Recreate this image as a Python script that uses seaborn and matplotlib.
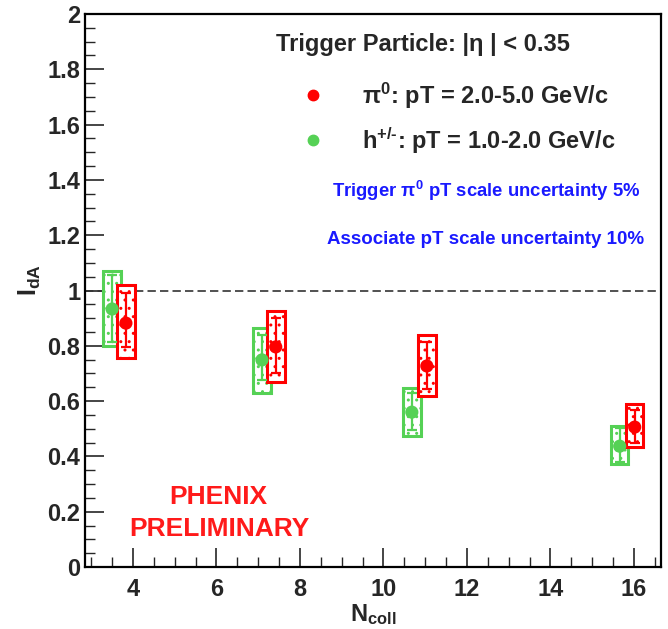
import numpy as np
import pandas as pd
import matplotlib
matplotlib.use("Agg")
import matplotlib.pyplot as plt
from matplotlib.patches import Rectangle
from matplotlib.ticker import MultipleLocator
import seaborn as sns

# ---- data ----
ncoll_pi0 = [3.83, 7.42, 11.04, 16.02]
ida_pi0 = [0.882, 0.796, 0.727, 0.506]
stat_up_pi0 = [0.108, 0.104, 0.087, 0.062]
stat_dn_pi0 = [0.086, 0.096, 0.083, 0.058]
sys_lo_pi0 = [0.756, 0.669, 0.618, 0.434]
sys_hi_pi0 = [1.020, 0.926, 0.839, 0.590]

ncoll_h = [3.50, 7.09, 10.68, 15.66]
ida_h = [0.933, 0.749, 0.560, 0.437]
stat_up_h = [0.123, 0.091, 0.070, 0.066]
stat_dn_h = [0.119, 0.073, 0.065, 0.057]
sys_lo_h = [0.800, 0.629, 0.474, 0.372]
sys_hi_h = [1.070, 0.864, 0.647, 0.510]

series_labels = ["π0", "h+/-"]
ytick_labels = ["0", "0.2", "0.4", "0.6", "0.8", "1", "1.2", "1.4", "1.6", "1.8", "2"]
RED = "#ff0000"
GREEN = "#55d155"

sns.set_style("ticks")
plt.rcParams["font.family"] = ["Liberation Sans", "DejaVu Sans"]
plt.rcParams["mathtext.fontset"] = "custom"
plt.rcParams["mathtext.rm"] = "Liberation Sans:bold"
plt.rcParams["mathtext.bf"] = "Liberation Sans:bold"
plt.rcParams["mathtext.it"] = "Liberation Sans:bold"
plt.rcParams["hatch.linewidth"] = 1.0

fig = plt.figure(figsize=(6.68, 6.29), dpi=100)
ax = fig.add_axes([85 / 668, 62 / 629, 576 / 668, 553 / 629])

df = pd.DataFrame({
    "ncoll": ncoll_pi0 + ncoll_h,
    "ida": ida_pi0 + ida_h,
    "series": [series_labels[0]] * 4 + [series_labels[1]] * 4,
})

box_hw = 0.21
for xs, ys, lo, hi, up, dn, col in [
    (ncoll_h, ida_h, sys_lo_h, sys_hi_h, stat_up_h, stat_dn_h, GREEN),
    (ncoll_pi0, ida_pi0, sys_lo_pi0, sys_hi_pi0, stat_up_pi0, stat_dn_pi0, RED),
]:
    for x, l, h in zip(xs, lo, hi):
        ax.add_patch(Rectangle((x - box_hw, l), 2 * box_hw, h - l,
                               facecolor="white", edgecolor=col, lw=2.2,
                               hatch="..", zorder=2))
    ax.errorbar(xs, ys, yerr=[dn, up], fmt="none", ecolor=col,
                elinewidth=1.6, capsize=3.5, capthick=1.6, zorder=3)

sns.scatterplot(data=df, x="ncoll", y="ida", hue="series",
                palette={series_labels[0]: RED, series_labels[1]: GREEN},
                s=90, edgecolor="none", legend=False, ax=ax, zorder=4)

ax.axhline(1.0, color="#333333", lw=1.2, ls=(0, (5, 2.5)), zorder=1)

ax.set_xlim(2.85, 16.65)
ax.set_ylim(0, 2)
ax.xaxis.set_major_locator(MultipleLocator(2))
ax.xaxis.set_minor_locator(MultipleLocator(0.5))
ax.yaxis.set_minor_locator(MultipleLocator(0.05))
ax.set_yticks(np.arange(0, 2.01, 0.2))
ax.set_yticklabels(ytick_labels)
ax.tick_params(which="major", direction="in", length=14, width=1.2,
               labelsize=17, pad=3.5, top=False, right=False)
ax.tick_params(which="minor", direction="in", length=7, width=1.0,
               top=False, right=False)
ax.tick_params(axis="x", which="major", pad=8)
for lab in ax.get_xticklabels() + ax.get_yticklabels():
    lab.set_fontweight("bold")
for sp in ax.spines.values():
    sp.set_linewidth(1.6)
    sp.set_color("black")

ax.set_xlabel(r"$\mathbf{N_{coll}}$", fontsize=17)
ax.set_ylabel(r"$\mathbf{I_{dA}}$", fontsize=18)
ax.xaxis.set_label_coords(0.5, (567 - 615) / 553)
ax.xaxis.label.set_va("center")
ax.yaxis.set_label_coords((30 - 85) / 576, (567 - 280) / 553)
ax.yaxis.label.set_va("center")

# legend / annotations
fig.text(276 / 668, 1 - 44 / 629, "Trigger Particle: |η | < 0.35", fontsize=17,
         fontweight="bold", va="center", ha="left")
fig.lines.append(plt.Line2D([313 / 668], [1 - 95 / 629], marker="o", color=RED,
                            markersize=7.5, transform=fig.transFigure, ls="none"))
fig.lines.append(plt.Line2D([313 / 668], [1 - 140 / 629], marker="o", color=GREEN,
                            markersize=7.5, transform=fig.transFigure, ls="none"))
fig.text(362 / 668, 1 - 96 / 629, r"π$^{0}$: pT = 2.0-5.0 GeV/c", fontsize=17,
         fontweight="bold", va="center", ha="left")
fig.text(362 / 668, 1 - 141 / 629, r"h$^{\text{+/-}}$: pT = 1.0-2.0 GeV/c", fontsize=17,
         fontweight="bold", va="center", ha="left")
fig.text(332 / 668, 1 - 191 / 629, r"Trigger π$^{0}$ pT scale uncertainty 5%", fontsize=13.3,
         fontweight="bold", color="#1a1aff", va="center", ha="left")
fig.text(327 / 668, 1 - 240 / 629, "Associate pT scale uncertainty 10%", fontsize=13.5,
         fontweight="bold", color="#1a1aff", va="center", ha="left")
fig.text(218 / 668, 1 - 497 / 629, "PHENIX", fontsize=19, fontweight="bold",
         color="#ff1a1a", va="center", ha="center")
fig.text(219 / 668, 1 - 529 / 629, "PRELIMINARY", fontsize=19, fontweight="bold",
         color="#ff1a1a", va="center", ha="center")

fig.savefig("out.png", dpi=100)
